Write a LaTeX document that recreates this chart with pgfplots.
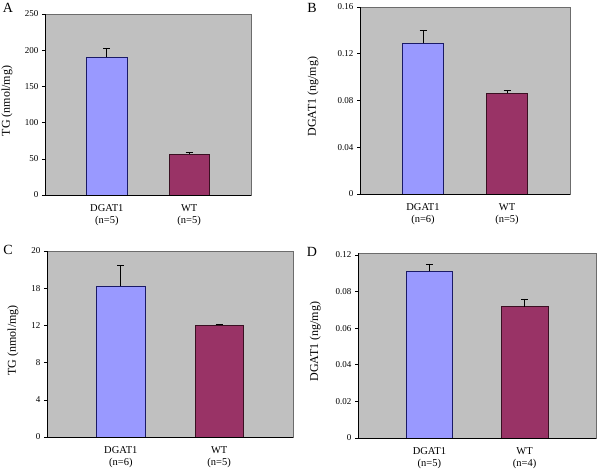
\documentclass[border=0pt]{standalone}
\usepackage{pgfplots}
\pgfplotsset{compat=1.18}
\usepackage{fontspec}
\setmainfont{Liberation Serif}

\definecolor{bgray}{HTML}{C0C0C0}
\definecolor{dgat}{HTML}{9999FF}
\definecolor{dgatedge}{HTML}{1A1A66}
\definecolor{wt}{HTML}{993366}
\definecolor{wtedge}{HTML}{3A1022}

\pgfplotsset{
  panel/.style={
    scale only axis,
    anchor=south west,
    axis background/.style={fill=bgray},
    axis line style={draw=gray!85!black, line width=0.6pt},
    after end axis/.code={
      \draw[black, line width=0.7pt] (rel axis cs:0,1) -- (rel axis cs:0,0) -- (rel axis cs:1,0);
    },
    ybar, bar width=0.49, bar shift=0pt,
    xmin=-0.75, xmax=1.75, ymin=0,
    xtick={0,1},
    xtick style={draw=none},
    ytick pos=left,
    tick align=outside,
    major tick length=3pt,
    ytick style={black, line width=0.6pt},
    yticklabel style={font=\fontsize{9}{10}\selectfont},
    xticklabel style={align=center, font=\fontsize{10.5}{12}\selectfont, yshift=-3pt},
    ylabel style={font=\fontsize{12}{14}\selectfont, anchor=center},
    error bars/y dir=plus,
    error bars/y explicit,
    error bars/error bar style={black, line width=0.6pt},
    error bars/error mark options={black, rotate=90, mark size=3.5pt, line width=0.6pt},
  },
  dgatbar/.style={fill=dgat, draw=dgatedge, line width=0.7pt},
  wtbar/.style={fill=wt, draw=wtedge, line width=0.7pt},
}

\begin{document}
\begin{tikzpicture}[x=1pt, y=1pt]
\path[use as bounding box] (0,0) rectangle (600,-474);

% A
\begin{axis}[panel,
  at={(45pt,-195pt)}, width=206pt, height=181pt,
  ymax=250, ytick={0,50,100,150,200,250},
  yticklabels={0,50,100,150,200,250},
  xticklabels={{DGAT1\\(n=5)},{WT\\(n=5)}},
  ylabel={TG (nmol/mg)},
  ylabel style={at={(axis description cs:-0.184,0.52)}},
]
\addplot[dgatbar] coordinates {(0,190.6) +- (0,12)};
\addplot[wtbar] coordinates {(1,56) +- (0,3)};
\end{axis}

% B
\begin{axis}[panel,
  at={(360pt,-194pt)}, width=210pt, height=187pt,
  ymax=0.16, ytick={0,0.04,0.08,0.12,0.16},
  yticklabels={0,0.04,0.08,0.12,0.16},
  xticklabels={{DGAT1\\(n=6)},{WT\\(n=5)}},
  ylabel={DGAT1 (ng/mg)},
  ylabel style={at={(axis description cs:-0.224,0.52)}},
]
\addplot[dgatbar] coordinates {(0,0.129) +- (0,0.0107)};
\addplot[wtbar] coordinates {(1,0.0864) +- (0,0.0023)};
\end{axis}

% C
\begin{axis}[panel,
  at={(47pt,-437pt)}, width=246pt, height=186pt,
  ymax=20, ytick={0,4,8,12,16,20},
  yticklabels={0,4,8,12,18,20},
  xticklabels={{DGAT1\\(n=6)},{WT\\(n=5)}},
  ylabel={TG (nmol/mg)},
  ylabel style={at={(axis description cs:-0.138,0.52)}},
]
\addplot[dgatbar] coordinates {(0,16.24) +- (0,2.18)};
\addplot[wtbar] coordinates {(1,12.0) +- (0,0.1)};
\end{axis}

% D
\begin{axis}[panel,
  at={(358pt,-438pt)}, width=238pt, height=185pt,
  ymax=0.101, ytick={0,0.02,0.04,0.06,0.08,0.10},
  yticklabels={0,0.02,0.04,0.06,0.08,0.12},
  xticklabels={{DGAT1\\(n=5)},{WT\\(n=4)}},
  ylabel={DGAT1 (ng/mg)},
  ylabel style={at={(axis description cs:-0.18,0.52)}},
]
\addplot[dgatbar] coordinates {(0,0.091) +- (0,0.0041)};
\addplot[wtbar] coordinates {(1,0.0717) +- (0,0.0042)};
\end{axis}

% panel letters
\node[font=\fontsize{14}{16}\selectfont] at (8,-8) {A};
\node[font=\fontsize{14}{16}\selectfont] at (312,-8) {B};
\node[font=\fontsize{14}{16}\selectfont] at (8,-250) {C};
\node[font=\fontsize{14}{16}\selectfont] at (312,-252) {D};
\end{tikzpicture}
\end{document}
